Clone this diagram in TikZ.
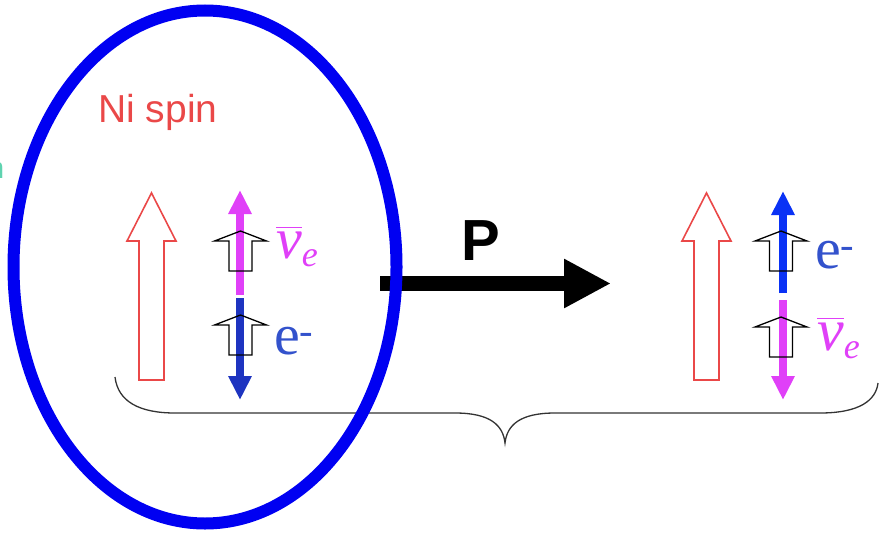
\documentclass[tikz,border=0pt]{standalone}
\usepackage{amsmath}
\usepackage{fontspec}
\setmainfont{Liberation Serif}
\newfontfamily\arialfont{Liberation Sans}
\usetikzlibrary{arrows.meta}
\definecolor{ellblue}{HTML}{0000F2}
\definecolor{spinred}{HTML}{EA4848}
\definecolor{numag}{HTML}{E040F8}
\definecolor{eldark}{HTML}{1E34C0}
\definecolor{elbright}{HTML}{0A32F5}
\definecolor{etext}{HTML}{3352CC}
\definecolor{cutteal}{HTML}{5FD3B0}
\tikzset{
  spinline/.style = {line width=8pt, -{Triangle[width=22pt,length=24pt]}},
  smallspin/.style = {draw, line width=1.3pt, line join=miter},
  bigspin/.style = {draw=spinred, line width=1.6pt, line join=miter},
  lab/.style = {inner sep=0pt, anchor=base west},
  brace/.style = {draw=black!80, line width=1.3pt},
}
\newcommand{\nubar}{$\overline{\text{\itshape ν}}_{\hbox{\itshape\fontsize{36}{36}\selectfont e}}$}
\newcommand{\elec}{e\textsuperscript{-}}

\begin{document}
\begin{tikzpicture}[x=1pt,y=-1pt]
\useasboundingbox (0,0) rectangle (885,535);
% cut-off text at the left edge
\node[cutteal,lab,anchor=base east,font=\arialfont\fontsize{30}{30}\selectfont] (cut) at (4.5,178) {n};
% Ni spin, large hollow arrows
\node[spinred,lab,font=\arialfont\fontsize{39}{39}\selectfont] (ni) at (98,122) {Ni spin};
\foreach \cx in {151.5,706.5}{
  \draw[bigspin] (\cx,193) -- (\cx+24.5,241) -- (\cx+12.5,241) -- (\cx+12.5,380)
    -- (\cx-12.5,380) -- (\cx-12.5,241) -- (\cx-24.5,241) -- cycle;}
% left: antineutrino up, electron down
\coordinate (nuLs) at (240,295);  \coordinate (nuLt) at (240,190);
\coordinate (eLs)  at (240,298);  \coordinate (eLt)  at (240,400);
\draw[spinline,numag]  (nuLs) -- (nuLt);
\draw[spinline,eldark] (eLs) -- (eLt);
% right: electron up, antineutrino down
\coordinate (eRs)  at (783,293);  \coordinate (eRt)  at (783,191);
\coordinate (nuRs) at (783,300);  \coordinate (nuRt) at (783,400);
\draw[spinline,elbright] (eRs) -- (eRt);
\draw[spinline,numag]    (nuRs) -- (nuRt);
% small hollow spin arrows
\foreach \cx/\ty in {240.5/231, 240.5/315, 781/231, 781/317}{
  \draw[smallspin] (\cx,\ty) -- (\cx+26,\ty+10) -- (\cx+11.5,\ty+10) -- (\cx+11.5,\ty+40)
    -- (\cx-11.5,\ty+40) -- (\cx-11.5,\ty+10) -- (\cx-26,\ty+10) -- cycle;}
% labels
\node[numag,lab,font=\fontsize{58}{58}\selectfont] (nuL) at (276,258) {\nubar};
\node[etext,lab,font=\fontsize{58}{58}\selectfont] (eL) at (274,354) {\elec};
\node[etext,lab,font=\fontsize{58}{58}\selectfont] (eR) at (815,268) {\elec};
\node[numag,lab,font=\fontsize{60}{60}\selectfont] (nuR) at (817,350) {\nubar};
% parity arrow
\coordinate (pa) at (380,283.5);
\coordinate (pb) at (611,283.5);
\draw[line width=15pt,-{Triangle[width=46pt,length=47pt]}] (pa) -- (pb);
\node[inner sep=0pt,anchor=base,font=\arialfont\bfseries\fontsize{58}{58}\selectfont] (P) at (481,260) {P};
% brace under both configurations
\draw[brace] (115,377) .. controls (118,402) and (140,413) .. (175,413) -- (455,413)
  .. controls (490,413) and (503,425) .. (505,443)
  .. controls (507,425) and (520,413) .. (555,413) -- (820,413)
  .. controls (860,413) and (876,400) .. (878,383);
% circled configuration
\draw[ellblue,line width=12pt] (205,267) ellipse [x radius=191.5, y radius=256.5];
\end{tikzpicture}
\end{document}
